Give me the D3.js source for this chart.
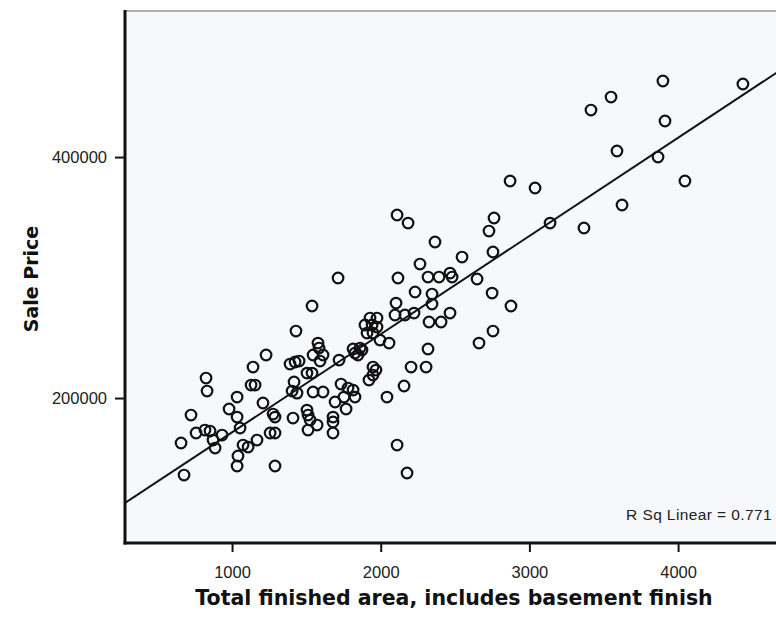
<!DOCTYPE html>
<html>
<head>
<meta charset="utf-8">
<script src="https://cdn.jsdelivr.net/npm/d3@7"></script>
<style>
  html, body { margin: 0; padding: 0; background: #ffffff; }
  svg { display: block; }
</style>
</head>
<body>
<svg id="chart" width="776" height="621"></svg>
<script>
// ---- Data ----
const areaSqft = [
  657, 677, 724, 758, 825, 832, 818, 852, 872, 886,
  933, 980, 1034, 1034, 1054, 1040, 1034, 1074, 1108, 1141,
  1229, 1128, 1155, 1168, 1208, 1276, 1289, 1256, 1289, 1289,
  1390, 1424, 1451, 1504, 1538, 1417, 1404, 1437, 1545, 1612,
  1578, 1585, 1612, 1592, 1545, 1410, 1504, 1511, 1525, 1511,
  1572, 1693, 1679, 1679, 1679, 1538, 1430, 1713, 1720, 1733,
  1780, 1814, 1753, 1827, 1767, 1814, 1827, 1861, 1847, 1874,
  1948, 1968, 1948, 1921, 1928, 1975, 1894, 1942, 1975, 1908,
  1948, 1995, 2056, 2042, 2096, 2163, 2224, 2103, 2116, 2110,
  2184, 2365, 2547, 2264, 2318, 2392, 2466, 2480, 2648, 2231,
  2345, 2345, 2749, 2876, 2325, 2406, 2466, 2728, 2762, 2755,
  2755, 2661, 2318, 2204, 2305, 2157, 2110, 2177, 2870, 3038,
  3139, 3367, 3414, 3549, 3589, 3623, 3865, 3898, 3912, 4046,
  4436
];
const salePrice = [
  162700, 136100, 185900, 171000, 216600, 205800, 173450, 172600, 165150, 158500,
  169300, 190900, 200800, 184200, 175100, 151900, 143600, 161000, 159300, 225700,
  235700, 210800, 210800, 165150, 195900, 186700, 184200, 171000, 171000, 143600,
  228200, 229900, 230700, 220700, 220700, 213300, 205800, 204100, 205000, 205000,
  245600, 241500, 235700, 230700, 235700, 183400, 190000, 185900, 181700, 173450,
  177600, 196700, 184200, 180100, 171000, 276400, 255600, 299600, 231500, 211600,
  208300, 206600, 200800, 200800, 190900, 240700, 237300, 241500, 235700, 239800,
  225700, 223200, 219100, 214900, 266400, 266400, 260600, 260600, 258900, 253900,
  253900, 248100, 245600, 200800, 268900, 268900, 270500, 278800, 299600, 351900,
  345200, 329500, 317000, 311200, 300400, 300400, 303700, 300400, 298800, 288000,
  286300, 278000, 287100, 276400, 263100, 263100, 270500, 338600, 349400, 321200,
  255600, 245600, 240700, 225700, 225700, 210000, 161000, 137800, 380100, 374300,
  345200, 341100, 439000, 449800, 405000, 360200, 400000, 463100, 429900, 380100,
  460600
];
const xTicks = [1000, 2000, 3000, 4000];
const yTicks = [200000, 400000];
const fitIntercept = 90046;
const fitSlope = 81.49;
const rSquaredLabel = "R Sq Linear = 0.771";
const xTitle = "Total finished area, includes basement finish";
const yTitle = "Sale Price";
const xDomain = [280, 4820];
const yDomain = [79700, 521200];

// ---- Layout ----
const svg = d3.select("#chart");
const mLeft = 125, mRight = 800, mTop = 11, mBottom = 543;

const x = d3.scaleLinear().domain(xDomain).range([mLeft, mRight]);
const y = d3.scaleLinear().domain(yDomain).range([mBottom, mTop]);

// plot background
svg.append("rect")
  .attr("x", mLeft).attr("y", mTop)
  .attr("width", mRight - mLeft).attr("height", mBottom - mTop)
  .attr("fill", "#f7f8fb");

// top border (grey)
svg.append("line")
  .attr("x1", mLeft).attr("x2", mRight)
  .attr("y1", mTop).attr("y2", mTop)
  .attr("stroke", "#b3aea6").attr("stroke-width", 2.2);

svg.append("clipPath").attr("id", "plotclip")
  .append("rect").attr("x", mLeft).attr("y", mTop)
  .attr("width", mRight - mLeft).attr("height", mBottom - mTop);

const plot = svg.append("g").attr("clip-path", "url(#plotclip)");

// regression line
const lineData = xDomain.map(v => ({ x: v, y: fitIntercept + fitSlope * v }));
plot.append("path")
  .datum(lineData)
  .attr("d", d3.line().x(d => x(d.x)).y(d => y(d.y)))
  .attr("fill", "none")
  .attr("stroke", "#111")
  .attr("stroke-width", 2);

// points
plot.selectAll("circle.pt")
  .data(areaSqft.map((a, i) => ({ a, p: salePrice[i] })))
  .enter().append("circle")
  .attr("class", "pt")
  .attr("cx", d => x(d.a))
  .attr("cy", d => y(d.p))
  .attr("r", 5.3)
  .attr("fill", "none")
  .attr("stroke", "#111")
  .attr("stroke-width", 2.2);

// axes
const xAxis = d3.axisBottom(x).tickValues(xTicks).tickSize(9).tickPadding(14).tickFormat(d3.format("d"));
const yAxis = d3.axisLeft(y).tickValues(yTicks).tickSize(10).tickPadding(8).tickFormat(d3.format("d"));

const gx = svg.append("g").attr("transform", `translate(0,${mBottom})`).call(xAxis);
const gy = svg.append("g").attr("transform", `translate(${mLeft},0)`).call(yAxis);

[gx, gy].forEach(g => {
  g.select(".domain").remove();
  g.selectAll(".tick line").attr("stroke", "#111").attr("stroke-width", 2);
  g.selectAll(".tick text")
    .attr("fill", "#222")
    .style("font-family", "Arial, 'Liberation Sans', sans-serif")
    .style("font-size", "16.5px");
});
gy.selectAll(".tick text").attr("dy", "0.36em");

// axis lines (thick)
svg.append("line")
  .attr("x1", mLeft).attr("x2", mLeft)
  .attr("y1", mTop - 1).attr("y2", mBottom + 1.5)
  .attr("stroke", "#111").attr("stroke-width", 3);
svg.append("line")
  .attr("x1", mLeft - 1.5).attr("x2", mRight)
  .attr("y1", mBottom).attr("y2", mBottom)
  .attr("stroke", "#111").attr("stroke-width", 3);

// R squared annotation
svg.append("text")
  .attr("x", 772).attr("y", 520)
  .attr("text-anchor", "end")
  .attr("fill", "#222")
  .style("font-family", "Arial, 'Liberation Sans', sans-serif")
  .style("font-size", "15.5px")
  .style("letter-spacing", "0.4px")
  .text(rSquaredLabel);

// axis titles
svg.append("text")
  .attr("x", 454).attr("y", 605)
  .attr("text-anchor", "middle")
  .attr("fill", "#111")
  .style("font-family", "'DejaVu Sans', sans-serif")
  .style("font-weight", "bold")
  .style("font-size", "20.5px")
  .text(xTitle);

svg.append("text")
  .attr("transform", "translate(38,279) rotate(-90)")
  .attr("text-anchor", "middle")
  .attr("fill", "#111")
  .style("font-family", "'DejaVu Sans', sans-serif")
  .style("font-weight", "bold")
  .style("font-size", "19px")
  .text(yTitle);
</script>
</body>
</html>
